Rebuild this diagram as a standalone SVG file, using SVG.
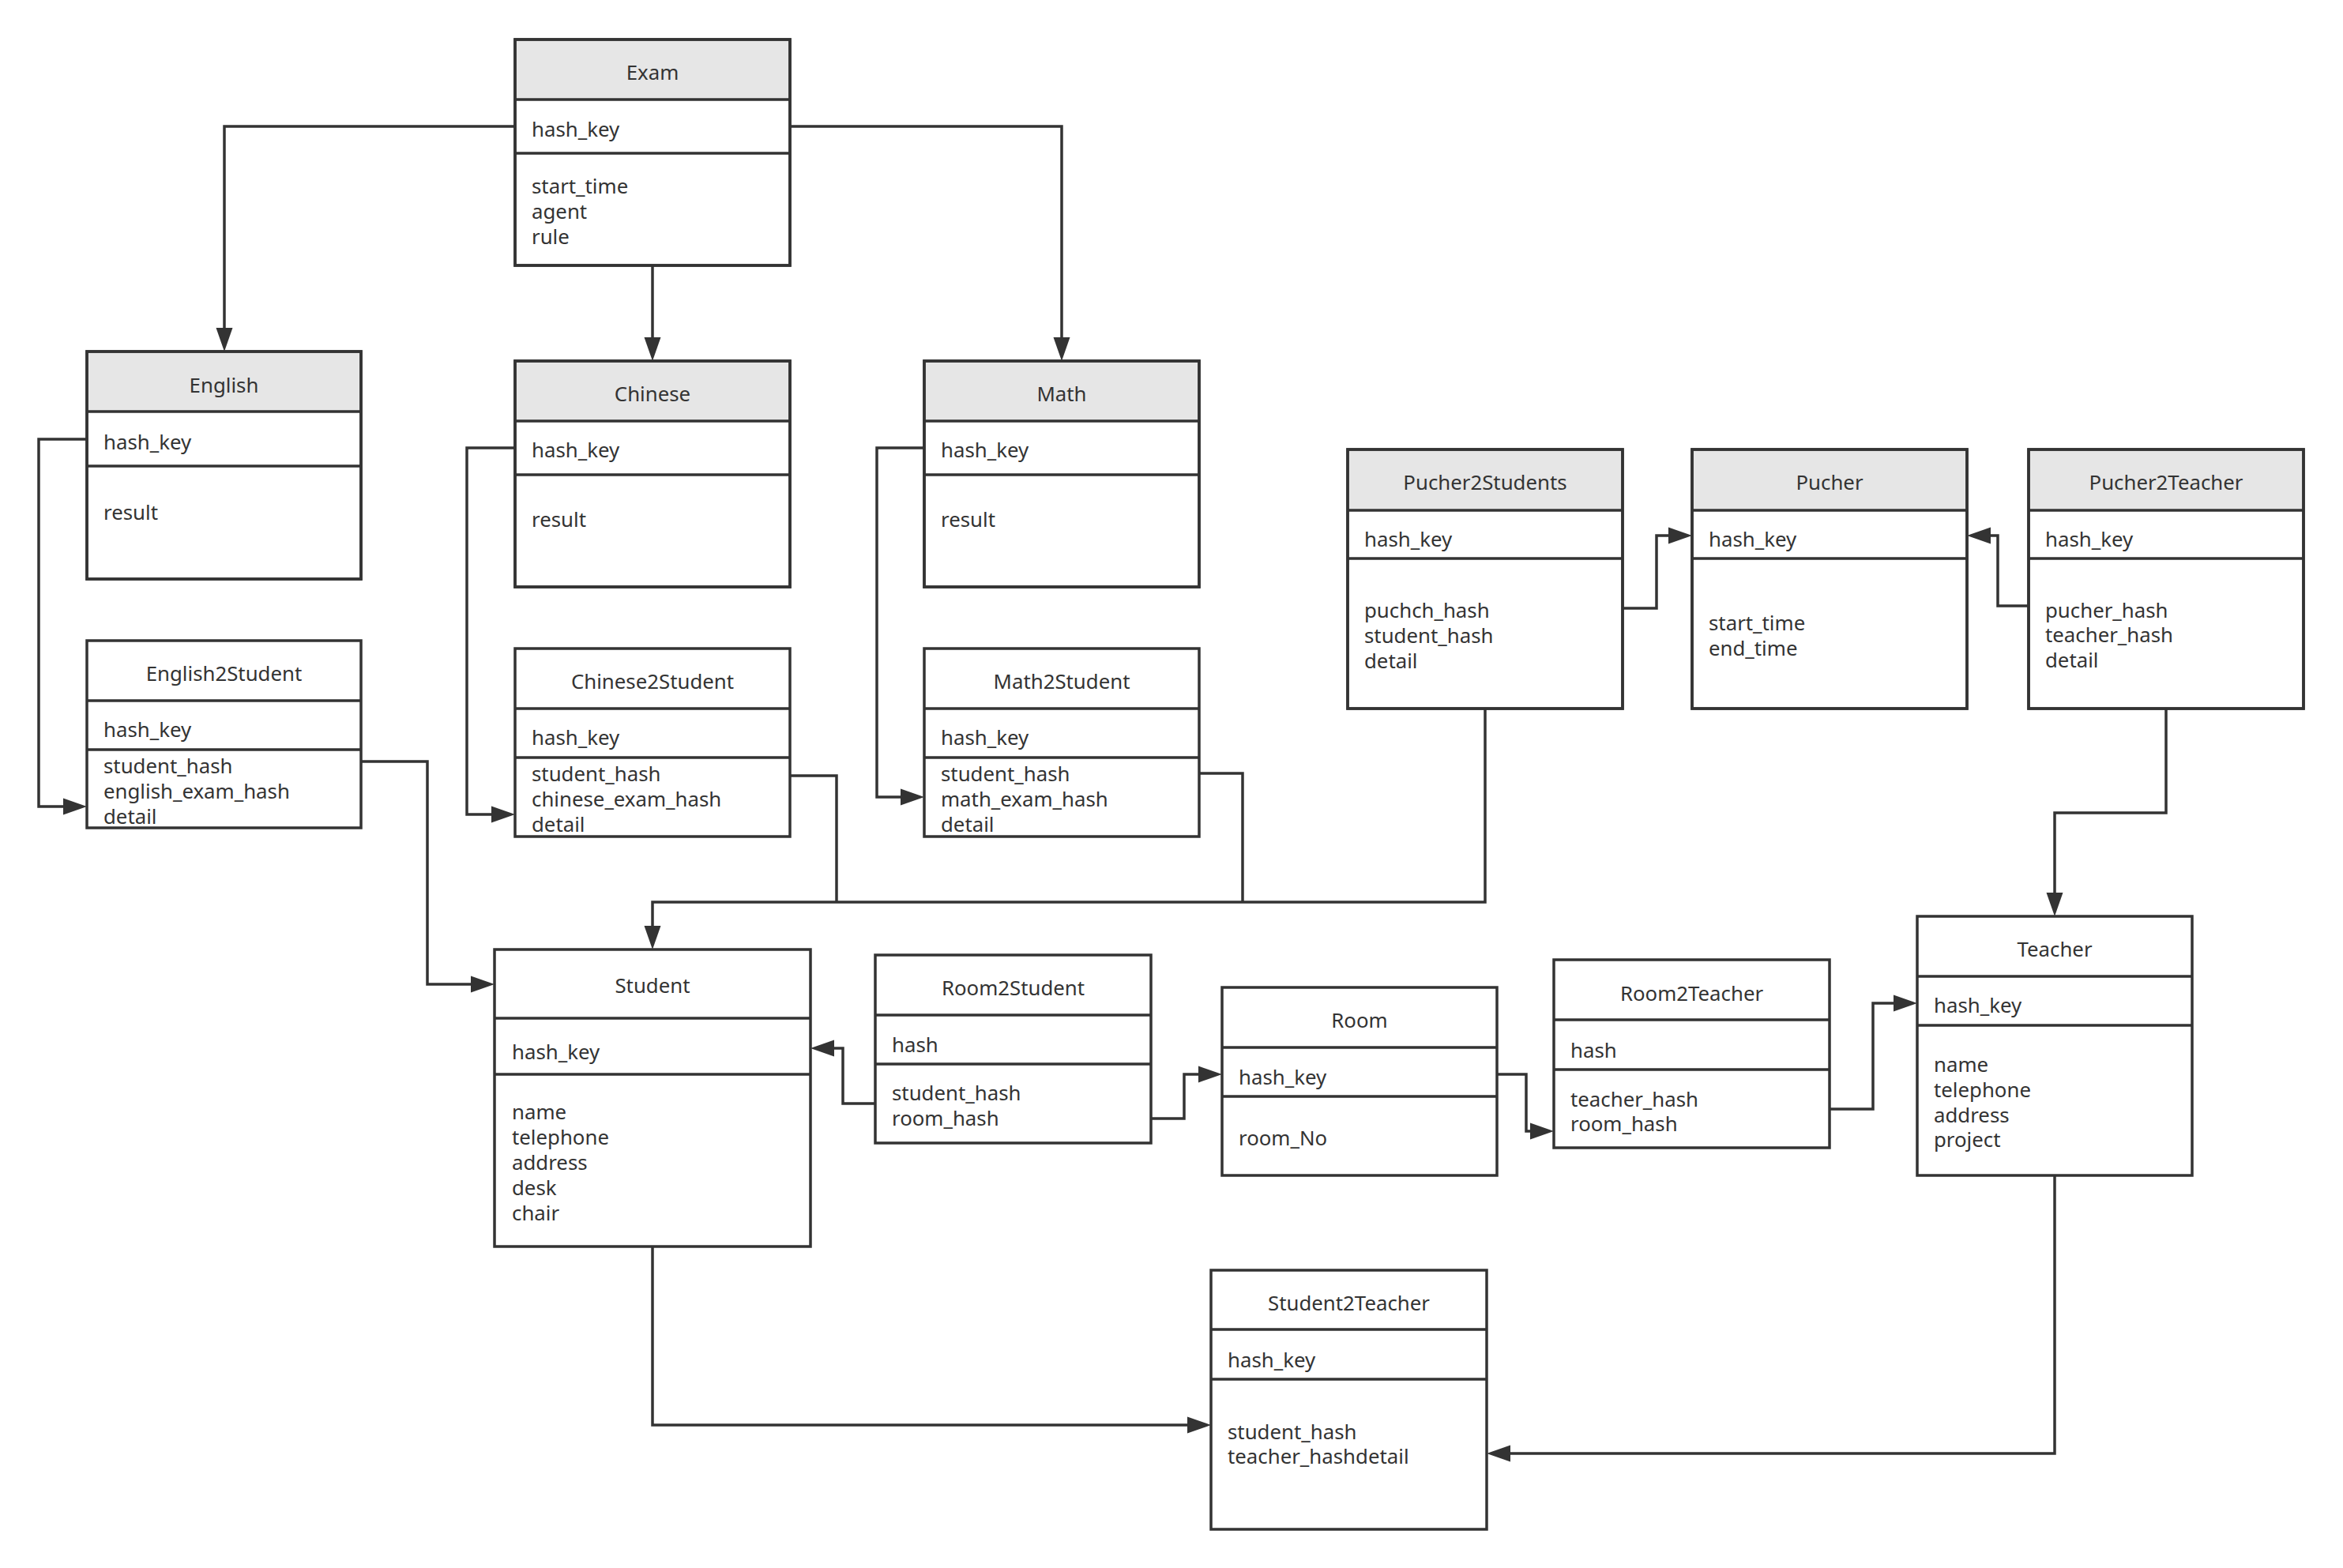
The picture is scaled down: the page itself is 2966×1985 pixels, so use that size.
<svg xmlns="http://www.w3.org/2000/svg" width="2966" height="1985" viewBox="0 0 2966 1985">
<style>
.box{fill:#ffffff;stroke:#333333;stroke-width:3.5}
.ol{fill:none;stroke:#333333;stroke-width:3.5}
.hd{fill:#e6e6e6;stroke:none}
.dv{stroke:#333333;stroke-width:3.5;fill:none}
.c{fill:none;stroke:#333333;stroke-width:3.5;stroke-linejoin:miter}
.a{marker-end:url(#arr)}
text{font-family:"Noto Sans","Open Sans","DejaVu Sans",sans-serif;font-size:25.8px;fill:#333333}
.t{text-anchor:middle}
</style>
<defs>
<marker id="arr" markerUnits="userSpaceOnUse" markerWidth="30" markerHeight="22" refX="24" refY="11" orient="auto">
<path d="M0,0.5 L30,11 L0,21.5 Z" fill="#333333"/>
</marker>
</defs>
<rect x="0" y="0" width="2966" height="1985" fill="#ffffff"/>

<g id="connectors">
<path class="c a" d="M652,160 H284 V439"/>
<path class="c a" d="M826,336 V451"/>
<path class="c a" d="M1000,160 H1344 V451"/>
<path class="c a" d="M110,556 H49 V1021 H104"/>
<path class="c a" d="M652,567 H591 V1031 H646"/>
<path class="c a" d="M1170,567 H1110 V1009 H1164"/>
<path class="c a" d="M457,964 H541 V1246 H620"/>
<path class="c" d="M1000,982 H1059 V1142"/>
<path class="c" d="M1518,979 H1573 V1142"/>
<path class="c a" d="M1880,897 V1142 H826 V1196"/>
<path class="c a" d="M2054,770 H2097 V678 H2136"/>
<path class="c a" d="M2568,767 H2529 V678 H2496"/>
<path class="c a" d="M2742,897 V1029 H2601 V1154"/>
<path class="c a" d="M1108,1397 H1067 V1327 H1032"/>
<path class="c a" d="M1457,1416 H1499 V1360 H1541"/>
<path class="c a" d="M1895,1360 H1932 V1432 H1961"/>
<path class="c a" d="M2316,1404 H2371 V1270 H2421"/>
<path class="c a" d="M826,1578 V1804 H1527"/>
<path class="c a" d="M2601,1488 V1840 H1888"/>
</g>

<g id="exam">
<rect class="box" x="652" y="50" width="348" height="286"/>
<rect class="hd" x="654" y="52" width="344" height="74"/>
<path class="dv" d="M652,126 H1000 M652,194 H1000"/>
<rect class="ol" x="652" y="50" width="348" height="286"/>
<text class="t" x="826" y="101">Exam</text>
<text x="673" y="173">hash_key</text>
<text x="673" y="245">start_time</text>
<text x="673" y="277">agent</text>
<text x="673" y="309">rule</text>
</g>

<g id="english">
<rect class="box" x="110" y="445" width="347" height="288"/>
<rect class="hd" x="112" y="447" width="343" height="74"/>
<path class="dv" d="M110,521 H457 M110,590 H457"/>
<rect class="ol" x="110" y="445" width="347" height="288"/>
<text class="t" x="283.5" y="497">English</text>
<text x="131" y="569">hash_key</text>
<text x="131" y="658">result</text>
</g>

<g id="chinese">
<rect class="box" x="652" y="457" width="348" height="286"/>
<rect class="hd" x="654" y="459" width="344" height="74"/>
<path class="dv" d="M652,533 H1000 M652,601 H1000"/>
<rect class="ol" x="652" y="457" width="348" height="286"/>
<text class="t" x="826" y="508">Chinese</text>
<text x="673" y="579">hash_key</text>
<text x="673" y="667">result</text>
</g>

<g id="math">
<rect class="box" x="1170" y="457" width="348" height="286"/>
<rect class="hd" x="1172" y="459" width="344" height="74"/>
<path class="dv" d="M1170,533 H1518 M1170,601 H1518"/>
<rect class="ol" x="1170" y="457" width="348" height="286"/>
<text class="t" x="1344" y="508">Math</text>
<text x="1191" y="579">hash_key</text>
<text x="1191" y="667">result</text>
</g>

<g id="english2student">
<rect class="box" x="110" y="811" width="347" height="237"/>
<path class="dv" d="M110,887 H457 M110,949 H457"/>
<text class="t" x="283.5" y="862">English2Student</text>
<text x="131" y="933">hash_key</text>
<text x="131" y="979">student_hash</text>
<text x="131" y="1011">english_exam_hash</text>
<text x="131" y="1043">detail</text>
</g>

<g id="chinese2student">
<rect class="box" x="652" y="821" width="348" height="238"/>
<path class="dv" d="M652,897 H1000 M652,959 H1000"/>
<text class="t" x="826" y="872">Chinese2Student</text>
<text x="673" y="943">hash_key</text>
<text x="673" y="989">student_hash</text>
<text x="673" y="1021">chinese_exam_hash</text>
<text x="673" y="1053">detail</text>
</g>

<g id="math2student">
<rect class="box" x="1170" y="821" width="348" height="238"/>
<path class="dv" d="M1170,897 H1518 M1170,959 H1518"/>
<text class="t" x="1344" y="872">Math2Student</text>
<text x="1191" y="943">hash_key</text>
<text x="1191" y="989">student_hash</text>
<text x="1191" y="1021">math_exam_hash</text>
<text x="1191" y="1053">detail</text>
</g>

<g id="pucher2students">
<rect class="box" x="1706" y="569" width="348" height="328"/>
<rect class="hd" x="1708" y="571" width="344" height="75"/>
<path class="dv" d="M1706,646 H2054 M1706,707 H2054"/>
<rect class="ol" x="1706" y="569" width="348" height="328"/>
<text class="t" x="1880" y="620">Pucher2Students</text>
<text x="1727" y="692">hash_key</text>
<text x="1727" y="782">puchch_hash</text>
<text x="1727" y="814">student_hash</text>
<text x="1727" y="846">detail</text>
</g>

<g id="pucher">
<rect class="box" x="2142" y="569" width="348" height="328"/>
<rect class="hd" x="2144" y="571" width="344" height="75"/>
<path class="dv" d="M2142,646 H2490 M2142,707 H2490"/>
<rect class="ol" x="2142" y="569" width="348" height="328"/>
<text class="t" x="2316" y="620">Pucher</text>
<text x="2163" y="692">hash_key</text>
<text x="2163" y="798">start_time</text>
<text x="2163" y="830">end_time</text>
</g>

<g id="pucher2teacher">
<rect class="box" x="2568" y="569" width="348" height="328"/>
<rect class="hd" x="2570" y="571" width="344" height="75"/>
<path class="dv" d="M2568,646 H2916 M2568,707 H2916"/>
<rect class="ol" x="2568" y="569" width="348" height="328"/>
<text class="t" x="2742" y="620">Pucher2Teacher</text>
<text x="2589" y="692">hash_key</text>
<text x="2589" y="782">pucher_hash</text>
<text x="2589" y="813">teacher_hash</text>
<text x="2589" y="845">detail</text>
</g>

<g id="student">
<rect class="box" x="626" y="1202" width="400" height="376"/>
<path class="dv" d="M626,1289 H1026 M626,1360 H1026"/>
<text class="t" x="826" y="1257">Student</text>
<text x="648" y="1341">hash_key</text>
<text x="648" y="1417">name</text>
<text x="648" y="1449">telephone</text>
<text x="648" y="1481">address</text>
<text x="648" y="1513">desk</text>
<text x="648" y="1545">chair</text>
</g>

<g id="room2student">
<rect class="box" x="1108" y="1209" width="349" height="238"/>
<path class="dv" d="M1108,1285 H1457 M1108,1347 H1457"/>
<text class="t" x="1282.5" y="1260">Room2Student</text>
<text x="1129" y="1332">hash</text>
<text x="1129" y="1393">student_hash</text>
<text x="1129" y="1425">room_hash</text>
</g>

<g id="room">
<rect class="box" x="1547" y="1250" width="348" height="238"/>
<path class="dv" d="M1547,1326 H1895 M1547,1388 H1895"/>
<text class="t" x="1721" y="1301">Room</text>
<text x="1568" y="1373">hash_key</text>
<text x="1568" y="1450">room_No</text>
</g>

<g id="room2teacher">
<rect class="box" x="1967" y="1215" width="349" height="238"/>
<path class="dv" d="M1967,1291 H2316 M1967,1354 H2316"/>
<text class="t" x="2141.5" y="1267">Room2Teacher</text>
<text x="1988" y="1339">hash</text>
<text x="1988" y="1401">teacher_hash</text>
<text x="1988" y="1432">room_hash</text>
</g>

<g id="teacher">
<rect class="box" x="2427" y="1160" width="348" height="328"/>
<path class="dv" d="M2427,1236 H2775 M2427,1298 H2775"/>
<text class="t" x="2601" y="1211">Teacher</text>
<text x="2448" y="1282">hash_key</text>
<text x="2448" y="1357">name</text>
<text x="2448" y="1389">telephone</text>
<text x="2448" y="1421">address</text>
<text x="2448" y="1452">project</text>
</g>

<g id="student2teacher">
<rect class="box" x="1533" y="1608" width="349" height="328"/>
<path class="dv" d="M1533,1683 H1882 M1533,1746 H1882"/>
<text class="t" x="1707.5" y="1659">Student2Teacher</text>
<text x="1554" y="1731">hash_key</text>
<text x="1554" y="1822">student_hash</text>
<text x="1554" y="1853">teacher_hashdetail</text>
</g>
</svg>
